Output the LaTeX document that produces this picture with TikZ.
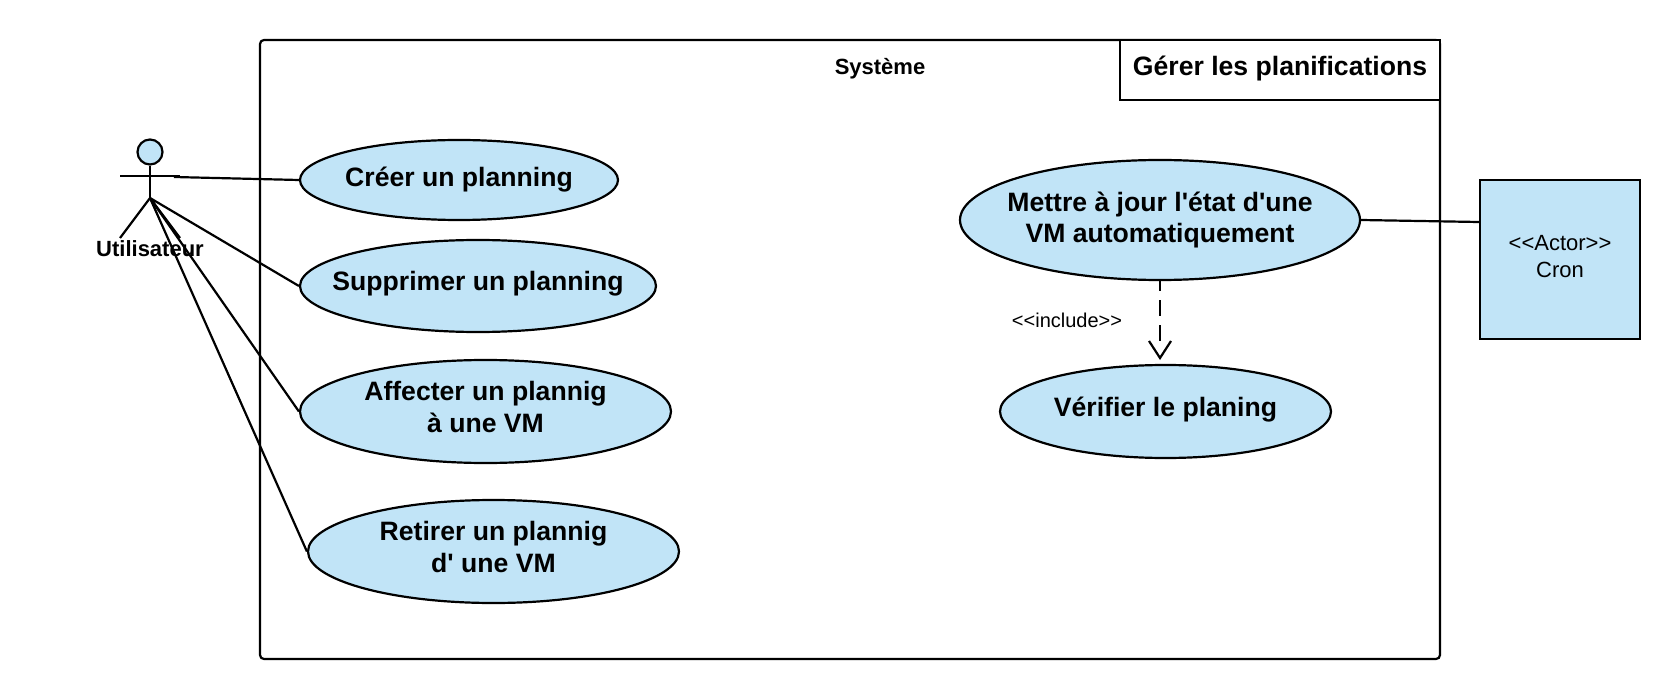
\documentclass[tikz,border=0pt]{standalone}
\usepackage{fontspec}
\setmainfont{Liberation Sans}
\usetikzlibrary{shapes.geometric,arrows.meta}
\definecolor{ucblue}{HTML}{C1E4F7}
\newcommand{\sq}{\XeTeXglyph\XeTeXcharglyph"27\relax}
\tikzset{
  x=0.5pt,y=-0.5pt,
  line/.style={draw=black,line width=1.1pt},
  usecase/.style={ellipse,line,fill=ucblue,inner sep=0pt},
  uctext/.style={inner sep=0pt,align=center,font=\fontsize{13.3}{15.7}\selectfont\bfseries},
  lbl/.style={inner sep=0pt,align=center,font=\fontsize{11}{13.5}\selectfont},
  blbl/.style={inner sep=0pt,align=center,font=\fontsize{11}{13}\selectfont\bfseries},
}
% name, cx, cy, width, height, text dy, text
\newcommand{\uc}[7]{%
  \node[usecase,minimum width=#4*0.5pt,minimum height=#5*0.5pt] (#1) at (#2,#3) {};
  \node[uctext] (#1text) at (#2,#3+#6) {#7};}
\begin{document}
\begin{tikzpicture}
\useasboundingbox (0,0) rectangle (1680,700);
\fill[white] (0,0) rectangle (1680,700);
\draw[line,rounded corners=2pt] (260,40) rectangle (1440,659);
\node[line,fill=white,minimum width=160pt,minimum height=30pt,inner sep=0pt] (title) at (1280,70) {};
\node[inner sep=0pt,font=\fontsize{13.3}{16}\selectfont\bfseries] (titletext) at (1280,69) {Gérer les planifications};
\node[blbl] (sys) at (880,68.5) {Système};
% actor
\node[circle,line,fill=ucblue,minimum size=12.5pt,inner sep=0pt] (head) at (150,152) {};
\coordinate (hip) at (150,198);
\coordinate (armL) at (120,176);
\coordinate (armR) at (180,176);
\coordinate (legL) at (120,238);
\coordinate (legR) at (180,238);
\coordinate (hand) at (174,177);
\draw[line] (head.south) -- (hip);
\draw[line] (armL) -- (armR);
\draw[line] (legL) -- (hip) -- (legR);
\node[blbl] (actor) at (150,249) {Utilisateur};
% use cases
\uc{creer}{459}{180}{318}{80}{0}{Créer un planning}
\uc{suppr}{478}{286}{356}{92}{-2}{Supprimer un planning}
\uc{affect}{485.5}{411.5}{371}{103}{-4.5}{Affecter un plannig\\à une VM}
\uc{retir}{493.5}{551.5}{371}{103}{-4.5}{Retirer un plannig\\d\sq{} une VM}
\uc{maj}{1160}{220}{400}{120}{0}{Mettre à jour l\sq{}état d\sq{}une\\VM automatiquement}
\uc{verif}{1165.5}{411.5}{331}{93}{-2}{Vérifier le planing}
\node[rectangle,line,fill=ucblue,minimum width=80pt,minimum height=79.5pt,inner sep=0pt,lbl] (cron) at (1560,259.5) {};
\node[lbl] (crontext) at (1560,257) {<{}<Actor>{}>\\Cron};
\node[inner sep=0pt,font=\fontsize{10}{12}\selectfont] (inc) at (1067,320) {<{}<include>{}>};
% connectors
\draw[line] (hand) -- (creer.west);
\draw[line] (hip) -- (suppr.west);
\draw[line] (hip) -- (affect.west);
\draw[line] (hip) -- (retir.west);
\draw[line] (maj.east) -- (cron.west |- 0,222);
\coordinate (inctip) at (1160,358);
\coordinate (incend) at (1160,341);
\draw[line,dash pattern=on 8pt off 4.5pt,dash phase=3pt] (maj.south) -- (incend);
\draw[line] (1149,341) -- (inctip) -- (1171,341);
\end{tikzpicture}
\end{document}
